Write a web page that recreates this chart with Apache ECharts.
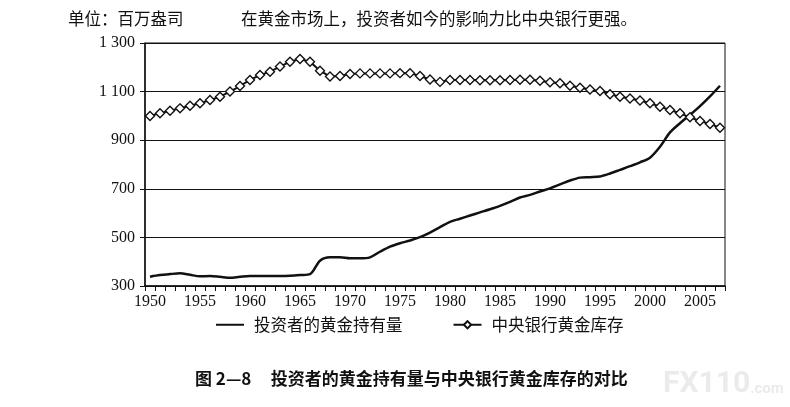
<!DOCTYPE html>
<html>
<head>
<meta charset="utf-8">
<title>投资者的黄金持有量与中央银行黄金库存的对比</title>
<script src="https://cdn.jsdelivr.net/npm/echarts@6/dist/echarts.min.js"></script>
<style>
    html, body { margin: 0; padding: 0; background: #fff; }
    #chart { width: 790px; height: 407px; }
</style>
</head>
<body>
<div id="chart"></div>
<script type="text/javascript">
    // 数据：1950-2007 年，单位：百万盎司
    var years = [];
    for (var y = 1950; y <= 2007; y++) { years.push(String(y)); }

    var investorHoldings = [
        338, 345, 349, 352, 346, 340, 341, 338, 334, 338,
        341, 341, 341, 341, 342, 345, 349, 404, 418, 418,
        414, 414, 418, 441, 462, 476, 487, 501, 520, 542,
        564, 577, 590, 603, 616, 630, 646, 664, 675, 689,
        702, 718, 734, 746, 748, 751, 763, 778, 793, 809,
        828, 873, 932, 970, 1004, 1040, 1080, 1124
    ];

    var centralBankReserves = [
        1000, 1011, 1021, 1031, 1042, 1052, 1065, 1079, 1100, 1123,
        1148, 1168, 1182, 1203, 1223, 1234, 1223, 1186, 1162, 1164,
        1172, 1175, 1175, 1175, 1175, 1176, 1176, 1164, 1150, 1140,
        1148, 1148, 1148, 1147, 1147, 1147, 1148, 1149, 1149, 1145,
        1138, 1134, 1124, 1116, 1109, 1102, 1089, 1079, 1072, 1063,
        1052, 1038, 1024, 1011, 994, 979, 967, 951
    ];

    var seriesNames = ['投资者的黄金持有量', '中央银行黄金库存'];

    var cjk = '"Noto Sans CJK SC", sans-serif';
    var serif = '"Liberation Serif", "DejaVu Serif", serif';

    var chart = echarts.init(document.getElementById('chart'));

    var option = {
        backgroundColor: '#fff',
        animation: false,
        title: [
            {
                text: '单位：百万盎司',
                left: 63, top: 5,
                textStyle: { fontFamily: cjk, fontSize: 16.5, fontWeight: 'normal', color: '#111' }
            },
            {
                text: '在黄金市场上，投资者如今的影响力比中央银行更强。',
                left: 236, top: 5,
                textStyle: { fontFamily: cjk, fontSize: 16.5, fontWeight: 'normal', color: '#111' }
            },
            {
                text: '图 2—8     投资者的黄金持有量与中央银行黄金库存的对比',
                left: 190, top: 365,
                textStyle: { fontFamily: cjk, fontSize: 17, fontWeight: 'bold', color: '#111' }
            },
            {
                text: '{a|FX110}{b|.com}',
                left: 658, top: 364,
                textStyle: {
                    rich: {
                        a: { fontFamily: '"Roboto", sans-serif', fontSize: 30, fontWeight: 'bold', color: '#ebebeb' },
                        b: { fontFamily: '"Roboto", sans-serif', fontSize: 15, color: '#ebebeb', padding: [10, 0, 0, 0] }
                    }
                }
            }
        ],
        legend: {
            data: [
                { name: seriesNames[0], itemStyle: { color: 'transparent', borderWidth: 0 } },
                { name: seriesNames[1] }
            ],
            bottom: 69,
            left: 210,
            itemWidth: 28,
            itemHeight: 9,
            itemGap: 50,
            textStyle: { fontFamily: cjk, fontSize: 16.5, color: '#111', padding: [0, 0, 0, 5] }
        },
        grid: {
            left: 145,
            right: 65,
            top: 43,
            bottom: 121,
            show: true,
            borderColor: '#111',
            borderWidth: 1
        },
        xAxis: {
            type: 'category',
            data: years,
            boundaryGap: true,
            axisLine: { lineStyle: { color: '#111', width: 1.5 } },
            axisTick: { show: true, interval: 0, length: 5, lineStyle: { color: '#111' } },
            axisLabel: {
                interval: 4,
                margin: 8,
                fontFamily: serif,
                fontSize: 16,
                color: '#111'
            },
            splitLine: { show: false }
        },
        yAxis: {
            type: 'value',
            min: 300,
            max: 1300,
            interval: 200,
            axisLine: { show: true, lineStyle: { color: '#111', width: 1.5 } },
            axisTick: { show: true, length: 5, lineStyle: { color: '#111' } },
            axisLabel: {
                margin: 10,
                fontFamily: serif,
                fontSize: 16,
                color: '#111',
                formatter: function (v) {
                    return v >= 1000 ? Math.floor(v / 1000) + ' ' + String(v % 1000).padStart(3, '0') : String(v);
                }
            },
            splitLine: { show: true, lineStyle: { color: '#111', width: 1 } }
        },
        series: [
            {
                name: seriesNames[0],
                type: 'line',
                data: investorHoldings,
                symbol: 'none',
                smooth: 0.3,
                lineStyle: { color: '#111', width: 2.5 },
                itemStyle: { color: '#111' }
            },
            {
                name: seriesNames[1],
                type: 'line',
                data: centralBankReserves,
                symbol: 'diamond',
                symbolSize: [9, 9],
                showAllSymbol: true,
                lineStyle: { color: '#111', width: 2 },
                itemStyle: { color: '#fff', borderColor: '#111', borderWidth: 1.4 }
            }
        ]
    };

    chart.setOption(option);
</script>
</body>
</html>
